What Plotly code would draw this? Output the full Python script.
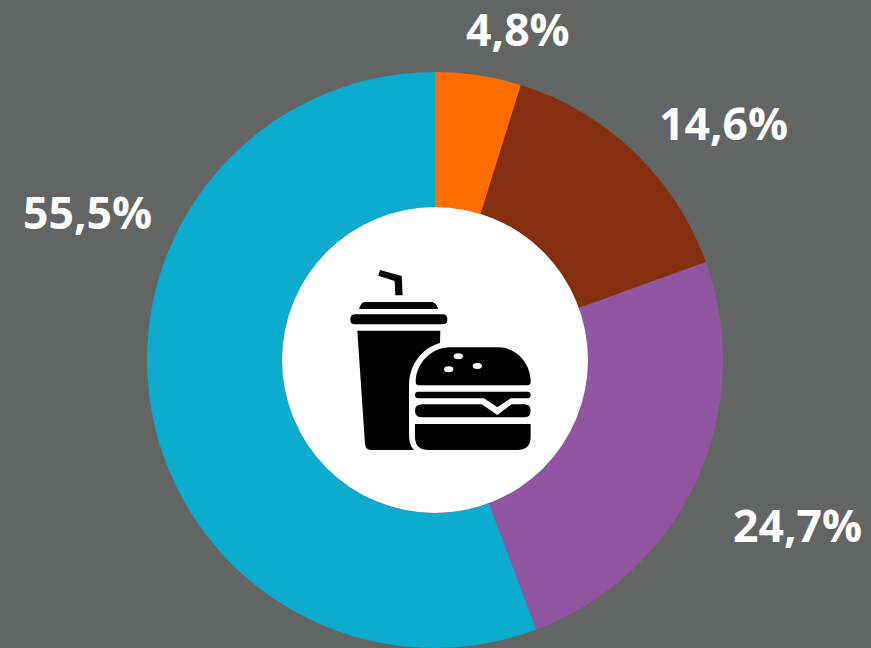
import plotly.graph_objects as go

W, H = 871, 648
categories = ["A", "B", "C", "D"]
values = [4.8, 14.6, 24.7, 55.5]
value_labels = ["4,8%", "14,6%", "24,7%", "55,5%"]
colors = ["#FF6D00", "#852E10", "#9155A2", "#0BACCD"]
label_px = [(518, 28), (723.5, 122), (797, 524), (87, 211)]
BG = "#636565"

def px(x, y):
    return x / W, 1 - y / H

def z(x, y):
    # zoomed icon crop coordinates to paper coordinates
    return px(335 + x / 3, 260 + y / 3)

def path(cmds):
    out = []
    for c in cmds:
        op, pts = c[0], c[1:]
        coords = " ".join("%.5f,%.5f" % z(*p) for p in pts)
        out.append(op + coords)
    return " ".join(out) + " Z"

def rbar(x0, y0, x1, y1, r):
    return [("M", (x0 + r, y0)), ("L", (x1 - r, y0)), ("Q", (x1, y0), (x1, y0 + r)),
            ("L", (x1, y1 - r)), ("Q", (x1, y1), (x1 - r, y1)), ("L", (x0 + r, y1)),
            ("Q", (x0, y1), (x0, y1 - r)), ("L", (x0, y0 + r)), ("Q", (x0, y0), (x0 + r, y0))]

black = "#000000"
straw = [("M", (135, 30)), ("L", (200, 48)), ("L", (203, 106)), ("L", (181, 106)), ("L", (179, 63)), ("L", (130, 47))]
lid = [("M", (88, 126)), ("L", (292, 126)), ("Q", (302, 128), (310, 147)), ("L", (72, 147)), ("Q", (78, 128), (88, 126))]
brim = rbar(46, 163, 337, 193, 14)
cup = [("M", (67, 212)), ("L", (316, 212)), ("L", (305, 570)), ("L", (105, 570)), ("Q", (92, 568), (90, 552))]
silhouette = [("M", (222, 375)), ("C", (222, 300), (280, 245), (345, 245)), ("L", (490, 245)),
              ("C", (560, 245), (600, 310), (600, 375)), ("L", (600, 540)), ("Q", (600, 585), (545, 585)),
              ("L", (265, 585)), ("Q", (222, 575), (222, 525))]
top_bun = [("M", (242, 366)), ("C", (242, 310), (290, 262), (345, 262)), ("L", (490, 262)),
           ("C", (545, 262), (587, 310), (587, 366)), ("Q", (587, 376), (577, 376)),
           ("L", (252, 376)), ("Q", (242, 376), (242, 366))]
strip = [("M", (250, 395)), ("L", (577, 395)), ("Q", (587, 395), (587, 405)), ("Q", (587, 415), (577, 415)),
         ("L", (527, 415)), ("L", (487, 442)), ("L", (447, 415)), ("L", (250, 415)),
         ("Q", (240, 415), (240, 405)), ("Q", (240, 395), (250, 395))]
middle = [("M", (262, 433)), ("L", (440, 433)), ("L", (487, 465)), ("L", (530, 433)), ("L", (567, 433)),
          ("Q", (587, 433), (587, 452)), ("Q", (587, 472), (567, 472)), ("L", (262, 472)),
          ("Q", (240, 472), (240, 452)), ("Q", (240, 433), (262, 433))]
bottom = [("M", (240, 492)), ("L", (587, 492)), ("L", (587, 530)), ("Q", (587, 570), (545, 570)),
          ("L", (282, 570)), ("Q", (240, 570), (240, 530))]

shapes = []
cx0, cy0 = px(435 - 153, 360 - 153)
cx1, cy1 = px(435 + 153, 360 + 153)
shapes.append(dict(type="circle", xref="paper", yref="paper", x0=cx0, y0=cy0, x1=cx1, y1=cy1,
                   fillcolor="#FFFFFF", line_width=0, layer="above"))
for p, col in [(straw, black), (lid, black), (brim, black), (cup, black), (silhouette, "#FFFFFF"),
               (top_bun, black), (strip, black), (middle, black), (bottom, black)]:
    shapes.append(dict(type="path", xref="paper", yref="paper", path=path(p), fillcolor=col,
                       line_width=0, layer="above"))
for ex, ey, rx, ry in [(370, 289, 14, 9), (341, 328, 14, 9), (427, 318, 14, 9)]:
    x0, y0 = z(ex - rx, ey - ry)
    x1, y1 = z(ex + rx, ey + ry)
    shapes.append(dict(type="circle", xref="paper", yref="paper", x0=x0, y0=y0, x1=x1, y1=y1,
                       fillcolor="#FFFFFF", line_width=0, layer="above"))

annotations = []
for text, (lx, ly) in zip(value_labels, label_px):
    ax, ay = px(lx, ly)
    annotations.append(dict(text=text, x=ax, y=ay, xref="paper", yref="paper", xanchor="center",
                            yanchor="middle", showarrow=False, height=50, borderpad=0,
                            font=dict(family="Open Sans", size=44.5, color="#FFFFFF", weight="bold")))

fig = go.Figure(go.Pie(
    labels=categories, values=values, sort=False, direction="clockwise", rotation=0,
    hole=153 / 288, marker=dict(colors=colors, line=dict(width=0)), textinfo="none",
    showlegend=False, hoverinfo="skip",
    domain=dict(x=[(435 - 288) / W, (435 + 288) / W], y=[0, 576 / H]),
))
fig.update_layout(width=W, height=H, margin=dict(l=0, r=0, t=0, b=0), paper_bgcolor=BG,
                  plot_bgcolor=BG, shapes=shapes, annotations=annotations, showlegend=False)
fig.write_html("out.html", post_script="document.body.style.margin='0';", config={"displayModeBar": False})
